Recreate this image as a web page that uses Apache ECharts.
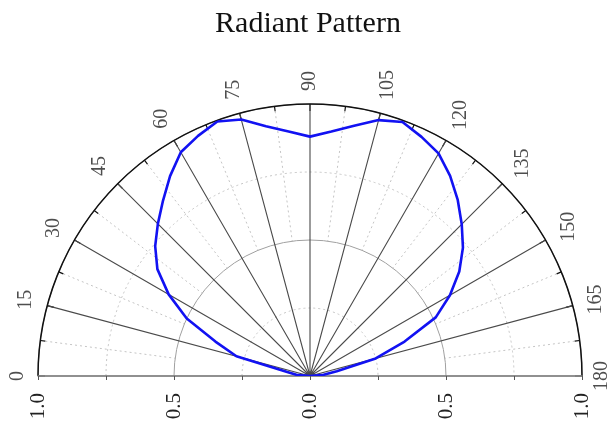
<!DOCTYPE html>
<html>
<head>
<meta charset="utf-8">
<title>Radiant Pattern</title>
<script src="https://cdn.jsdelivr.net/npm/echarts@6.0.0/dist/echarts.min.js"></script>
<style>
  html, body { margin: 0; padding: 0; background: #fff; }
  #chart { width: 616px; height: 429px; }
</style>
</head>
<body>
<div id="chart"></div>
<script>
// angle in degrees (0 = left, 180 = right), relative intensity
const angles = [0, 5, 10, 15, 20, 25, 30, 35, 40, 45, 50, 55, 60, 65, 70, 75, 80, 85, 90,
  95, 100, 105, 110, 115, 120, 125, 130, 135, 140, 145, 150, 155, 160, 165, 170, 175, 180];
const intensity = [0, 0.05, 0.085, 0.28, 0.37, 0.50, 0.60, 0.685, 0.743, 0.791, 0.841, 0.897, 0.95, 0.974, 0.996, 0.976, 0.932, 0.902, 0.88,
  0.902, 0.934, 0.974, 0.994, 0.97, 0.945, 0.898, 0.845, 0.789, 0.734, 0.67, 0.594, 0.51, 0.37, 0.25, 0.10, 0.05, 0];

// tick labels
const angleTicks = [0, 15, 30, 45, 60, 75, 90, 105, 120, 135, 150, 165, 180];
const radiusTicks = [-1, -0.5, 0, 0.5, 1];

const CX = 310, CY = 376, R = 272;
const FONT = 'Liberation Serif';
const LABEL_SIZE = 20;
const DOT = '#c4c4c4';

// distance of an angle label from the rim, in radius units (labels are rotated 90deg)
function labelRadius(a) {
  const t = a * Math.PI / 180;
  const txt = String(a);
  const w = txt.length * 0.5 * LABEL_SIZE;
  const h = 0.7 * LABEL_SIZE;
  const half = Math.abs(Math.cos(t)) * h / 2 + Math.abs(Math.sin(t)) * w / 2;
  return 1 + (13 + half) / R;
}

// a bare half-circle angle axis, styles passed in
function halfAngle(polarIndex, interval, extra) {
  return Object.assign({
    polarIndex: polarIndex,
    type: 'value',
    min: 0, max: 180, interval: interval,
    startAngle: 180, endAngle: 0, clockwise: true,
    axisLine: { show: false },
    axisTick: { show: false },
    axisLabel: { show: false },
    splitLine: { show: false }
  }, extra);
}

const chart = echarts.init(document.getElementById('chart'));

chart.setOption({
  animation: false,
  title: {
    text: 'Radiant Pattern',
    left: 'center',
    top: 4,
    textStyle: { fontFamily: FONT, fontSize: 30, fontWeight: 'normal', color: '#111' }
  },
  polar: [
    { center: [CX, CY], radius: R },
    { center: [CX, CY], radius: [R / 2, R] },
    { center: [CX, CY], radius: R }
  ],
  angleAxis: [
    halfAngle(0, 15, {
      z: 3,
      axisLine: { show: true, lineStyle: { color: '#111', width: 1.5 } },
      axisTick: { show: true, inside: true, length: 7, lineStyle: { color: '#111', width: 1.2 } },
      minorTick: { show: true, splitNumber: 2, length: 5, lineStyle: { color: '#111', width: 1.2 } },
      splitLine: { show: true, lineStyle: { color: '#4a4a4a', width: 1.1 } }
    }),
    // dotted half-step spokes, only in the outer ring
    halfAngle(1, 7.5, {
      z: 1,
      splitLine: { show: true, lineStyle: { color: ['rgba(0,0,0,0)', DOT], type: [2, 3], width: 1 } }
    }),
    halfAngle(2, 15, { z: 1 })
  ],
  radiusAxis: [
    {
      polarIndex: 0,
      type: 'value',
      min: 0, max: 1, interval: 0.5,
      z: 2,
      axisLine: { show: false },
      axisTick: { show: false },
      axisLabel: { show: false },
      splitLine: { show: true, lineStyle: { color: '#a0a0a0', width: 1 } }
    },
    {
      polarIndex: 1,
      type: 'value',
      min: 0.5, max: 1,
      axisLine: { show: false },
      axisTick: { show: false },
      axisLabel: { show: false },
      splitLine: { show: false }
    },
    {
      // dotted circles at the quarter steps
      polarIndex: 2,
      type: 'value',
      min: 0, max: 1, interval: 0.25,
      z: 1,
      axisLine: { show: false },
      axisTick: { show: false },
      axisLabel: { show: false },
      splitLine: { show: true, lineStyle: { color: ['rgba(0,0,0,0)', DOT], type: [2, 3], width: 1 } }
    }
  ],
  // cartesian overlay for the flat bottom axis
  grid: { left: CX - R, width: 2 * R, top: CY - R, height: R, containLabel: false },
  xAxis: {
    type: 'value',
    min: -1, max: 1, interval: 0.25,
    z: 4,
    axisLine: { lineStyle: { color: '#8a8a8a', width: 1.5 } },
    axisTick: { show: true, length: 4, lineStyle: { color: '#555' } },
    splitLine: { show: false },
    axisLabel: {
      rotate: 90,
      margin: 17,
      fontFamily: FONT,
      fontSize: 21,
      color: '#222',
      showMinLabel: true,
      showMaxLabel: true,
      formatter: v => radiusTicks.indexOf(v) >= 0 ? Math.abs(v).toFixed(1) : ''
    }
  },
  yAxis: { type: 'value', min: 0, max: 1, show: false },
  series: [
    {
      name: 'Radiant',
      type: 'line',
      coordinateSystem: 'polar',
      polarIndex: 0,
      symbol: 'none',
      smooth: false,
      z: 5,
      lineStyle: { color: '#1212f2', width: 2.6 },
      data: angles.map((a, i) => [intensity[i], a])
    },
    {
      name: 'angle labels',
      type: 'scatter',
      coordinateSystem: 'polar',
      polarIndex: 0,
      clip: false,
      symbolSize: 1,
      itemStyle: { color: 'rgba(0,0,0,0)' },
      label: {
        show: true,
        position: 'inside',
        rotate: 90,
        fontFamily: FONT,
        fontSize: LABEL_SIZE,
        color: '#222',
        formatter: p => String(p.value[1])
      },
      data: angleTicks.map(a => [labelRadius(a), a])
    }
  ]
});
</script>
</body>
</html>
